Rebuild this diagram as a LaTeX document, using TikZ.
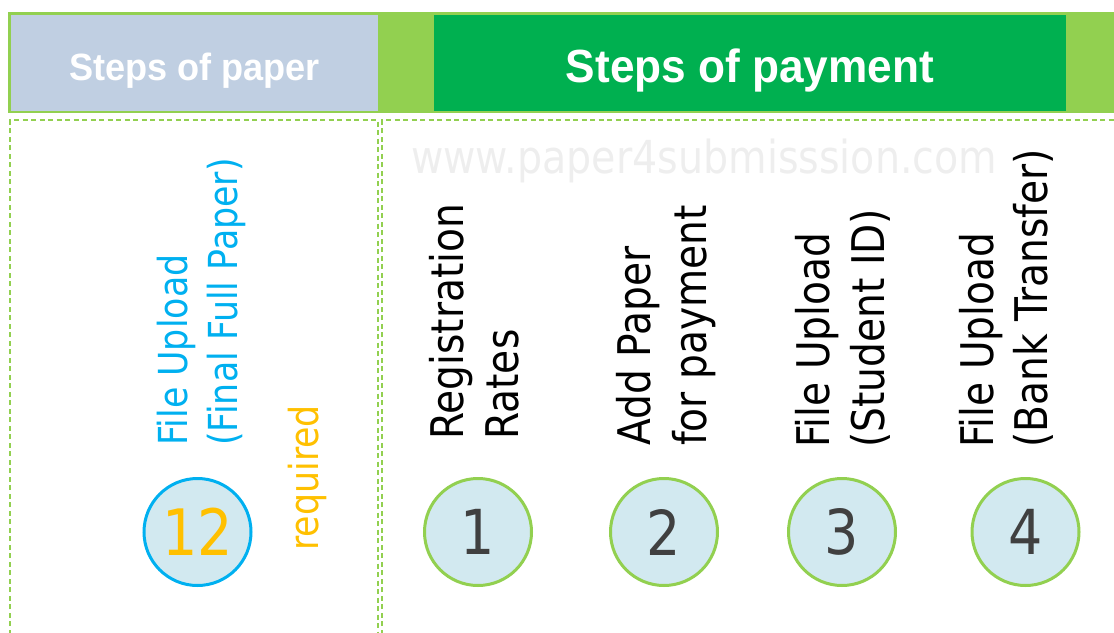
\documentclass[tikz,border=0pt]{standalone}
\usepackage{fontspec}
\newfontfamily\tah[FakeStretch=0.87]{DejaVu Sans}
\newfontfamily\hdr[FakeStretch=0.95]{Liberation Sans}
\definecolor{lgreen}{HTML}{92D050}
\definecolor{dgreen}{HTML}{00B050}
\definecolor{steel}{HTML}{C0CFE2}
\definecolor{cyanc}{HTML}{00B0F0}
\definecolor{orangec}{HTML}{FFC000}
\definecolor{circfill}{HTML}{D2E9F0}
\definecolor{digit}{HTML}{404040}
\definecolor{wmark}{HTML}{EEEEEE}
\begin{document}
\begin{tikzpicture}[x=1pt,y=-1pt,
  vtext/.style={rotate=90,anchor=base west,inner sep=0pt,font=\tah\fontsize{45}{54}\selectfont},
  vsmall/.style={rotate=90,anchor=base west,inner sep=0pt,font=\tah\fontsize{40}{48}\selectfont},
  stepcirc/.style={circle,draw=lgreen,line width=3pt,fill=circfill,minimum size=107pt,inner sep=0pt,
    text=digit,font=\tah\fontsize{62}{70}\selectfont},
  dashbox/.style={draw=lgreen,line width=2.6pt,dash pattern=on 5pt off 3.5pt},
  hdrtext/.style={anchor=base,inner sep=0pt,text=white}]
\useasboundingbox (0,0) rectangle (1114,632);
\begin{scope}
\clip (0,0) rectangle (1114,632);
% header band
\fill[lgreen] (8,12) rectangle (1130,113);
\fill[steel] (11,15) rectangle (378,111);
\fill[dgreen] (434,15) rectangle (1066,111);
\node[hdrtext,font=\hdr\bfseries\fontsize{38}{44}\selectfont] (hpaper) at (194.5,80) {Steps of paper};
\node[hdrtext,font=\hdr\bfseries\fontsize{46.5}{54}\selectfont] (hpay) at (750,82) {Steps of payment};
% dashed boxes
\draw[dashbox] (10,660) -- (10,120) -- (378,120) -- (378,660);
\draw[dashbox] (382,660) -- (382,120) -- (1130,120);
% watermark
\node[anchor=base west,inner sep=0pt,text=wmark,font=\tah\fontsize{45.5}{54}\selectfont] (wm) at (411,173) {www.paper4submisssion.com};
% paper column
\node[vsmall,text=cyanc] (p1a) at (187,446) {File Upload};
\node[vsmall,text=cyanc] (p1b) at (237,446) {(Final Full Paper)};
\node[vsmall,text=orangec] (req) at (318,551) {required};
\node[stepcirc,draw=cyanc,text=orangec,font=\tah\fontsize{64}{70}\selectfont] (c12) at (197.5,532) {12};
% payment columns
\node[vtext] (r1a) at (463,440) {Registration};
\node[vtext] (r1b) at (518,440) {Rates};
\node[vtext] (r2a) at (650,446) {Add Paper};
\node[vtext] (r2b) at (706,446) {for payment};
\node[vtext] (r3a) at (829,448) {File Upload};
\node[vtext] (r3b) at (884,448) {(Student ID)};
\node[vtext] (r4a) at (993,448) {File Upload};
\node[vtext] (r4b) at (1047,448) {(Bank Transfer)};
\node[stepcirc] (c1) at (478,532) {1};
\node[stepcirc] (c2) at (664,532) {2};
\node[stepcirc] (c3) at (842,532) {3};
\node[stepcirc] (c4) at (1025.5,532) {4};
\end{scope}
\end{tikzpicture}
\end{document}
